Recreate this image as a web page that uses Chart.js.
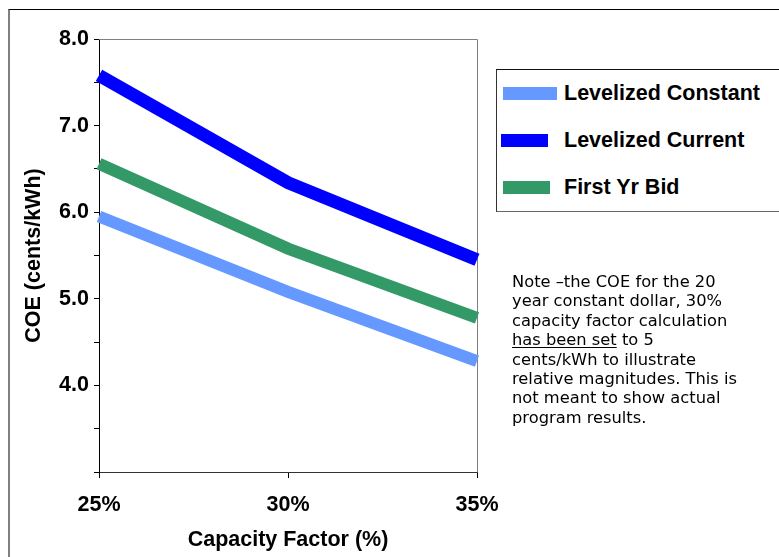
<!DOCTYPE html>
<html>
<head>
<meta charset="utf-8">
<script src="https://cdn.jsdelivr.net/npm/chart.js@4/dist/chart.umd.min.js"></script>
<style>
  html, body { margin: 0; padding: 0; background: #fff; }
  #wrap { position: relative; width: 779px; height: 557px; overflow: hidden; }
  #frame {
    position: absolute; left: 8px; top: 9px; width: 900px; height: 700px;
    border-top: 1px solid #000; border-left: 2px solid #808080;
  }
  canvas { position: absolute; left: 0; top: 0; }
  #legend {
    position: absolute; left: 496px; top: 69px; width: 400px; height: 141px;
    border-top: 1px solid #111; border-left: 1px solid #333; border-bottom: 1px solid #666; background: #fff;
    font-family: "Liberation Sans", Arial, sans-serif; font-weight: bold; font-size: 21.5px;
  }
  .item { position: absolute; left: 0; height: 26px; }
  .swatch { position: absolute; height: 13px; }
  .label { position: absolute; left: 67px; white-space: nowrap; line-height: 26px; top: 0; }
  #note {
    position: absolute; left: 512px; top: 272px; white-space: nowrap;
    font-family: "DejaVu Sans", Verdana, sans-serif; font-size: 16.3px; line-height: 19.4px; color: #000;
  }
  #note u { text-decoration-thickness: 1px; text-underline-offset: 2px; }
</style>
</head>
<body>
<div id="wrap">
  <div id="frame"></div>
  <canvas id="c" width="779" height="557"></canvas>
  <div id="legend"></div>
  <div id="note">Note &#8211;the COE for the 20<br>year constant dollar, 30%<br>capacity factor calculation<br><u>has been set</u> to 5<br>cents/kWh to illustrate<br>relative magnitudes. This is<br>not meant to show actual<br>program results.</div>
</div>
<script>
// Capacity factor categories and cost of energy (cents/kWh) per pricing basis
const capacityFactors = ['25%', '30%', '35%'];
const levelizedConstant = [5.95, 5.08, 4.28];
const levelizedCurrent = [7.58, 6.34, 5.45];
const firstYrBid = [6.56, 5.58, 4.78];
const seriesNames = ['Levelized Constant', 'Levelized Current', 'First Yr Bid'];
const seriesColors = ['#6699FF', '#0000FF', '#339966'];
const seriesWidths = [12, 13, 12];

const boldFont = (size) => ({ family: '"Liberation Sans", Arial, sans-serif', size: size, weight: 'bold' });

// gray frame on the top and right edges of the plot area
const plotFrame = {
  id: 'plotFrame',
  beforeDatasetsDraw(chart) {
    const { ctx, chartArea: a } = chart;
    ctx.save();
    ctx.strokeStyle = '#808080';
    ctx.lineWidth = 1;
    ctx.beginPath();
    ctx.moveTo(a.left, a.top + 0.5);
    ctx.lineTo(a.right + 0.5, a.top + 0.5);
    ctx.lineTo(a.right + 0.5, a.bottom);
    ctx.stroke();
    ctx.restore();
  }
};

const seriesData = [levelizedConstant, levelizedCurrent, firstYrBid];

const chart = new Chart(document.getElementById('c'), {
  type: 'line',
  data: {
    labels: capacityFactors,
    datasets: seriesData.map((d, i) => ({
      label: seriesNames[i],
      data: d,
      borderColor: seriesColors[i],
      backgroundColor: seriesColors[i],
      borderWidth: seriesWidths[i],
      pointRadius: 0,
      tension: 0,
      clip: false
    }))
  },
  options: {
    responsive: false,
    devicePixelRatio: 1,
    animation: false,
    layout: { padding: { top: 39, right: 302, bottom: 0, left: 0 } },
    plugins: { legend: { display: false }, tooltip: { enabled: false } },
    scales: {
      x: {
        type: 'category',
        offset: false,
        grid: { drawOnChartArea: false, drawTicks: true, tickLength: 6, color: '#000' },
        border: { color: '#333', width: 1 },
        ticks: { font: boldFont(21.5), color: '#000', padding: 14 },
        title: { display: true, text: 'Capacity Factor (%)', font: boldFont(21.5), color: '#000', padding: { top: 4, bottom: 4 } },
        afterFit(scale) { scale.height = 85; }
      },
      y: {
        min: 3, max: 8,
        grid: { drawOnChartArea: false, drawTicks: true, tickLength: 5, color: '#000' },
        border: { color: '#000', width: 1 },
        ticks: {
          stepSize: 0.5,
          font: boldFont(21.5), color: '#000', padding: 5,
          callback: (v) => (Number.isInteger(v) && v >= 4) ? v.toFixed(1) : ''
        },
        title: { display: true, text: 'COE (cents/kWh)', font: boldFont(21.5), color: '#000', padding: { top: 21, bottom: 4 } },
        afterFit(scale) { scale.width = 99; }
      }
    }
  },
  plugins: [plotFrame]
});

// legend entries built from the same series names and colours
const legend = document.getElementById('legend');
const swatchX = [6, 4, 6];
const swatchW = [54, 47, 47];
const itemTop = [10, 57, 104];
seriesNames.forEach((name, i) => {
  const item = document.createElement('div');
  item.className = 'item';
  item.style.top = itemTop[i] + 'px';
  const sw = document.createElement('div');
  sw.className = 'swatch';
  sw.style.left = swatchX[i] + 'px';
  sw.style.width = swatchW[i] + 'px';
  sw.style.top = '7px';
  sw.style.background = seriesColors[i];
  const lb = document.createElement('div');
  lb.className = 'label';
  lb.textContent = name;
  item.appendChild(sw);
  item.appendChild(lb);
  legend.appendChild(item);
});
</script>
</body>
</html>
